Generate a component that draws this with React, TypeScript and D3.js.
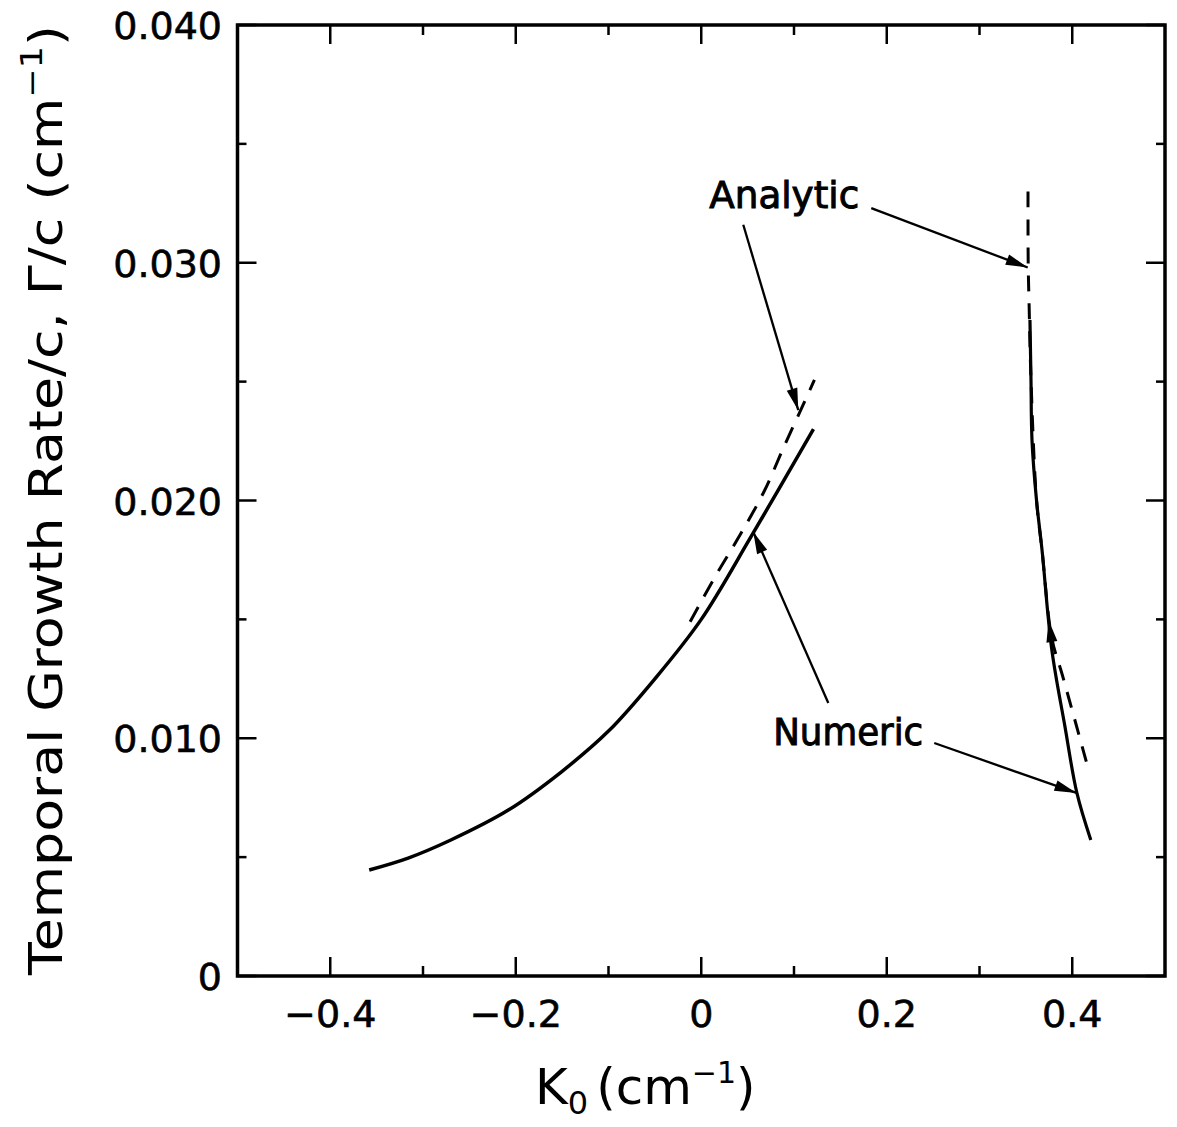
import React from "react";
import * as d3 from "d3";

// ---- data (K0 in cm^-1, growth rate Γ/c in cm^-1) ----
const leftNumericK = [-0.358, -0.316, -0.27, -0.208, -0.151, -0.1, -0.05, 0, 0.054, 0.121];
const leftNumericG = [0.00446, 0.00496, 0.00572, 0.00698, 0.00858, 0.0103, 0.0125, 0.0150, 0.0185, 0.0230];

const leftAnalyticK = [-0.012, 0.015, 0.043, 0.068, 0.089, 0.106, 0.122];
const leftAnalyticG = [0.0149, 0.0168, 0.01863, 0.0204, 0.02225, 0.0237, 0.02507];

const rightNumericK = [0.3544, 0.3555, 0.3566, 0.3615, 0.3674, 0.378, 0.392, 0.405, 0.42];
const rightNumericG = [0.02759, 0.0251, 0.02254, 0.02, 0.01792, 0.01371, 0.01052, 0.0077, 0.00572];

const rightAnalyticK = [0.3523, 0.3525, 0.3535, 0.3555, 0.3615, 0.3674, 0.378, 0.3893, 0.404, 0.4185];
const rightAnalyticG = [0.033, 0.03, 0.0282, 0.0251, 0.02, 0.01792, 0.0142, 0.01266, 0.0106, 0.00854];

const xMajorTicks = [-0.4, -0.2, 0, 0.2, 0.4];
const xMinorTicks = [-0.3, -0.1, 0.1, 0.3];
const xTickLabels = ["\u22120.4", "\u22120.2", "0", "0.2", "0.4"];
const yMajorTicks = [0, 0.01, 0.02, 0.03, 0.04];
const yMinorTicks = [0.005, 0.015, 0.025, 0.035];
const yTickLabels = ["0", "0.010", "0.020", "0.030", "0.040"];

// annotation arrows: from [K, G] to [K, G]
const arrowFrom = [
  [0.0453, 0.0316],
  [0.1833, 0.0323],
  [0.137, 0.01148],
  [0.2512, 0.0098],
  [0.381, 0.0133],
];
const arrowTo = [
  [0.1046, 0.0238],
  [0.352, 0.0298],
  [0.0561, 0.01868],
  [0.4045, 0.0077],
  [0.3745, 0.01497],
];
const arrowHasShaft = [true, true, true, true, false];

const labelTexts = ["Analytic", "Numeric"];
const labelPos = [
  [0.0086, 0.0323],
  [0.0776, 0.00972],
];

const W = 1177;
const H = 1127;

export default function App() {
  const x = d3.scaleLinear().domain([-0.5, 0.5]).range([237.5, 1165]);
  const y = d3.scaleLinear().domain([0, 0.04]).range([976, 25]);

  const line = d3
    .line<[number, number]>()
    .x((d) => x(d[0]))
    .y((d) => y(d[1]))
    .curve(d3.curveCatmullRom.alpha(0.5));

  const zip = (a: number[], b: number[]) => a.map((v, i) => [v, b[i]] as [number, number]);

  const font = "'DejaVu Sans', 'Liberation Sans', sans-serif";
  const x0 = x(-0.5), x1 = x(0.5), y0 = y(0), y1 = y(0.04);

  const arrowHead = (fx: number, fy: number, tx: number, ty: number) => {
    const ang = Math.atan2(ty - fy, tx - fx);
    const len = 22, wid = 5.5;
    const bx = tx - len * Math.cos(ang), by = ty - len * Math.sin(ang);
    const px = -Math.sin(ang) * wid, py = Math.cos(ang) * wid;
    return `M${tx},${ty}L${bx + px},${by + py}L${bx - px},${by - py}Z`;
  };

  return (
    <svg
      width={W}
      height={H}
      style={{ position: "absolute", left: 0, top: 0, background: "#fff" }}
      fontFamily={font}
    >
      <rect x={0} y={0} width={W} height={H} fill="#fff" />
      {/* frame */}
      <rect x={x0} y={y1} width={x1 - x0} height={y0 - y1} fill="none" stroke="#000" strokeWidth={3.5} />

      {/* x ticks, bottom and top, inward */}
      {xMajorTicks.map((t) => (
        <g key={"xM" + t}>
          <line x1={x(t)} x2={x(t)} y1={y0} y2={y0 - 19} stroke="#000" strokeWidth={2.5} />
          <line x1={x(t)} x2={x(t)} y1={y1} y2={y1 + 19} stroke="#000" strokeWidth={2.5} />
        </g>
      ))}
      {xMinorTicks.map((t) => (
        <g key={"xm" + t}>
          <line x1={x(t)} x2={x(t)} y1={y0} y2={y0 - 10} stroke="#000" strokeWidth={2.5} />
          <line x1={x(t)} x2={x(t)} y1={y1} y2={y1 + 10} stroke="#000" strokeWidth={2.5} />
        </g>
      ))}
      {yMajorTicks.map((t) => (
        <g key={"yM" + t}>
          <line x1={x0} x2={x0 + 19} y1={y(t)} y2={y(t)} stroke="#000" strokeWidth={2.5} />
          <line x1={x1} x2={x1 - 19} y1={y(t)} y2={y(t)} stroke="#000" strokeWidth={2.5} />
        </g>
      ))}
      {yMinorTicks.map((t) => (
        <g key={"ym" + t}>
          <line x1={x0} x2={x0 + 9} y1={y(t)} y2={y(t)} stroke="#000" strokeWidth={2.5} />
          <line x1={x1} x2={x1 - 9} y1={y(t)} y2={y(t)} stroke="#000" strokeWidth={2.5} />
        </g>
      ))}

      {/* tick labels */}
      {xMajorTicks.map((t, i) => (
        <text key={"xl" + t} x={x(t)} y={1027} fontSize={38} textAnchor="middle" fill="#000" stroke="#000" strokeWidth={0.6}>
          {xTickLabels[i]}
        </text>
      ))}
      {yMajorTicks.map((t, i) => (
        <text key={"yl" + t} x={222} y={y(t) + 14} fontSize={38} textAnchor="end" fill="#000" stroke="#000" strokeWidth={0.6}>
          {yTickLabels[i]}
        </text>
      ))}

      {/* axis titles */}
      <text fontSize={50} fill="#000" x={535} y={1104}>
        <tspan>K</tspan>
        <tspan fontSize={32} dy={10}>0</tspan>
        <tspan dy={-10} dx={8}>(cm</tspan>
        <tspan fontSize={30} dy={-21}>{"\u2212"}1</tspan>
        <tspan dy={21}>)</tspan>
      </text>
      <text
        transform="translate(62,500) rotate(-90)"
        textAnchor="middle"
        fontSize={46}
        fill="#000"
        textLength={950}
        lengthAdjust="spacingAndGlyphs"
      >
        Temporal Growth Rate/c, Γ/c (cm
        <tspan fontSize={30} dy={-20}>{"\u2212"}1</tspan>
        <tspan dy={20}>)</tspan>
      </text>

      {/* curves */}
      <path d={line(zip(leftNumericK, leftNumericG)) || ""} fill="none" stroke="#000" strokeWidth={3.5} />
      <path
        d={line(zip(leftAnalyticK, leftAnalyticG)) || ""}
        fill="none"
        stroke="#000"
        strokeWidth={3}
        strokeDasharray="17,12"
      />
      <path d={line(zip(rightNumericK, rightNumericG)) || ""} fill="none" stroke="#000" strokeWidth={3.2} />
      <path
        d={line(zip(rightAnalyticK, rightAnalyticG)) || ""}
        fill="none"
        stroke="#000"
        strokeWidth={3}
        strokeDasharray="16,12"
      />

      {/* annotations */}
      {arrowFrom.map((f, i) => {
        const fx = x(f[0]), fy = y(f[1]);
        const tx = x(arrowTo[i][0]), ty = y(arrowTo[i][1]);
        return (
          <g key={"ar" + i}>
            {arrowHasShaft[i] && (
              <line x1={fx} y1={fy} x2={tx} y2={ty} stroke="#000" strokeWidth={2.3} />
            )}
            <path d={arrowHead(fx, fy, tx, ty)} fill="#000" />
          </g>
        );
      })}
      {labelTexts.map((t, i) => (
        <text
          key={t}
          x={x(labelPos[i][0])}
          y={y(labelPos[i][1])}
          fontSize={38}
          fill="#000"
          stroke="#000"
          strokeWidth={1}
          textLength={150}
          lengthAdjust="spacingAndGlyphs"
        >
          {t}
        </text>
      ))}
    </svg>
  );
}
